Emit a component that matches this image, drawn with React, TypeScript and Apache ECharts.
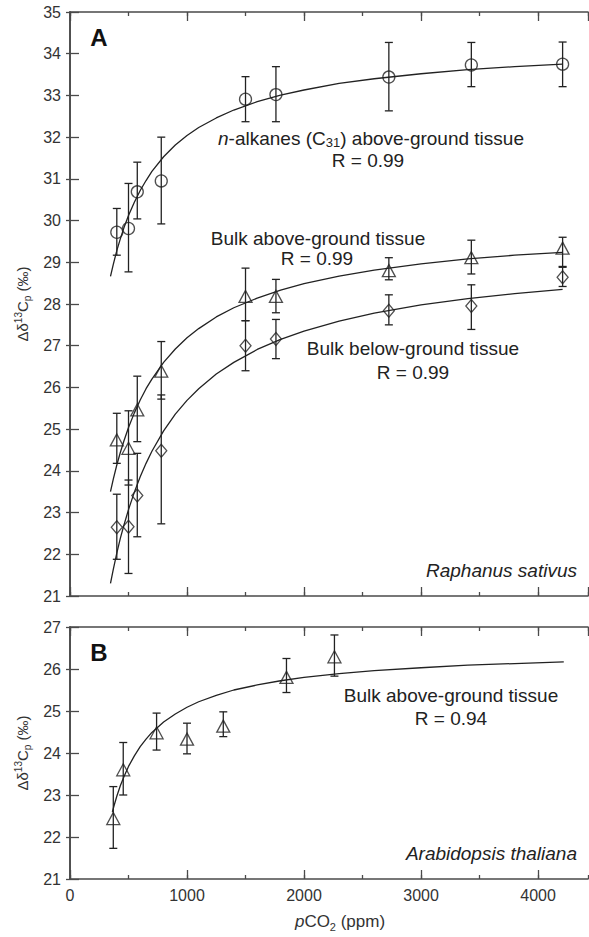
import React, { useEffect, useRef } from "react";
import * as echarts from "echarts";

// ---- Panel A (Raphanus sativus) ----
const pco2A = [400, 500, 575, 780, 1500, 1760, 2725, 3430, 4210];
const nAlkanes = [29.72, 29.81, 30.69, 30.95, 32.91, 33.02, 33.44, 33.73, 33.75];
const nAlkanesHi = [30.29, 30.89, 31.4, 32.0, 33.45, 33.69, 34.27, 34.27, 34.28];
const nAlkanesLo = [29.17, 28.77, 30.04, 29.92, 32.37, 32.37, 32.63, 33.21, 33.21];

const bulkAbove = [24.74, 24.54, 25.46, 26.39, 28.18, 28.18, 28.8, 29.11, 29.34];
const bulkAboveHi = [25.38, 25.44, 26.27, 27.1, 28.86, 28.59, 29.11, 29.53, 29.6];
const bulkAboveLo = [24.18, 23.66, 24.7, 25.72, 27.6, 27.79, 28.58, 28.72, 28.9];

const bulkBelow = [22.65, 22.66, 23.41, 24.48, 27.0, 27.16, 27.84, 27.95, 28.64];
const bulkBelowHi = [23.44, 23.78, 24.42, 25.82, 27.6, 27.63, 28.22, 28.46, 28.88];
const bulkBelowLo = [21.88, 21.54, 22.42, 22.73, 26.4, 26.69, 27.5, 27.39, 28.42];

// fitted curves
const fitAX = [346, 370, 400, 430, 460, 500, 550, 600, 650, 700, 800, 900, 1000, 1100, 1250, 1400, 1600, 1800, 2000, 2300, 2600, 3000, 3400, 3800, 4210];
const fitNAlkanes = [28.66, 28.95, 29.28, 29.56, 29.82, 30.12, 30.44, 30.72, 30.96, 31.18, 31.53, 31.81, 32.04, 32.23, 32.46, 32.65, 32.85, 33.01, 33.13, 33.29, 33.4, 33.52, 33.62, 33.69, 33.75];
const fitBulkAbove = [23.5, 23.8, 24.14, 24.44, 24.71, 25.04, 25.39, 25.7, 25.97, 26.2, 26.6, 26.92, 27.19, 27.41, 27.69, 27.91, 28.14, 28.33, 28.49, 28.67, 28.81, 28.96, 29.08, 29.17, 29.24];
const fitBulkBelow = [21.3, 21.64, 22.03, 22.38, 22.69, 23.07, 23.49, 23.86, 24.18, 24.47, 24.96, 25.36, 25.69, 25.97, 26.32, 26.6, 26.91, 27.15, 27.35, 27.59, 27.78, 27.98, 28.13, 28.25, 28.35];

// ---- Panel B (Arabidopsis thaliana) ----
const pco2B = [370, 455, 740, 1000, 1310, 1850, 2260];
const arabAbove = [22.44, 23.6, 24.48, 24.33, 24.64, 25.8, 26.29];
const arabAboveHi = [23.2, 24.25, 24.95, 24.71, 24.98, 26.25, 26.81];
const arabAboveLo = [21.73, 23.0, 24.07, 23.98, 24.39, 25.44, 25.83];

const fitBX = [362, 380, 400, 430, 460, 500, 550, 600, 650, 700, 800, 900, 1000, 1100, 1250, 1400, 1600, 1800, 2000, 2300, 2600, 3000, 3400, 3800, 4220];
const fitArab = [22.6, 22.78, 22.97, 23.22, 23.43, 23.68, 23.93, 24.15, 24.33, 24.49, 24.74, 24.93, 25.09, 25.22, 25.37, 25.5, 25.62, 25.72, 25.8, 25.89, 25.96, 26.03, 26.09, 26.13, 26.17];

const X_MIN = 0;
const X_MAX = 4427;

const INK = "#222";
const AXIS = "#4a4a4a";
const FONT = "Liberation Sans, Arial, Helvetica, sans-serif";

function pairs(xs: number[], ys: number[]) {
  return xs.map((x, i) => [x, ys[i]]);
}
function triples(xs: number[], lo: number[], hi: number[]) {
  return xs.map((x, i) => [x, lo[i], hi[i]]);
}

function errorBarRender(params: any, api: any) {
  const x = api.value(0);
  const lo = api.value(1);
  const hi = api.value(2);
  const pHi = api.coord([x, hi]);
  const pLo = api.coord([x, lo]);
  const w = 4;
  const style = { stroke: INK, lineWidth: 1.3 };
  return {
    type: "group",
    children: [
      { type: "line", shape: { x1: pHi[0], y1: pHi[1], x2: pLo[0], y2: pLo[1] }, style },
      { type: "line", shape: { x1: pHi[0] - w, y1: pHi[1], x2: pHi[0] + w, y2: pHi[1] }, style },
      { type: "line", shape: { x1: pLo[0] - w, y1: pLo[1], x2: pLo[0] + w, y2: pLo[1] }, style },
    ],
  };
}

function xAxes(gridIndex: number, withLabels: boolean) {
  const base = {
    type: "value",
    gridIndex,
    min: X_MIN,
    max: X_MAX,
    splitLine: { show: false },
  };
  const major = (position: string, showLine: boolean, labels: boolean, extra: any = {}) => ({
    ...base,
    position,
    interval: 1000,
    axisLine: { show: showLine, lineStyle: { color: AXIS, width: 1.6 } },
    axisTick: { show: true, inside: true, length: 9, lineStyle: { color: AXIS, width: 1.3 } },
    axisLabel: {
      show: labels,
      showMaxLabel: false,
      margin: 8,
      fontSize: 16,
      fontFamily: FONT,
      color: "#333",
      formatter: (v: number) => (v % 1000 === 0 ? String(v) : ""),
    },
    ...extra,
  });
  const minor = (position: string) => ({
    ...base,
    position,
    interval: 500,
    axisLine: { show: false },
    axisTick: { show: true, inside: true, length: 4, lineStyle: { color: AXIS, width: 1.3 } },
    axisLabel: { show: false },
  });
  const nameExtra = withLabels
    ? {
        name: "{i|p}CO{sub|2} (ppm)",
        nameLocation: "middle",
        nameGap: 31,
        nameTextStyle: {
          fontSize: 17,
          fontFamily: FONT,
          color: "#333",
          lineHeight: 22,
          padding: [0, 0, 0, 22],
          rich: {
            i: { fontSize: 17, fontStyle: "italic", fontFamily: FONT, color: "#333", lineHeight: 22 },
            sub: { fontSize: 11, fontFamily: FONT, color: "#333", verticalAlign: "bottom", lineHeight: 11 },
          },
        },
      }
    : {};
  return [
    major("bottom", true, withLabels, nameExtra),
    minor("bottom"),
    major("top", true, false),
    minor("top"),
  ];
}

function yAxes(gridIndex: number, min: number, max: number) {
  return [
    {
      type: "value",
      gridIndex,
      position: "left",
      min,
      max,
      interval: 1,
      splitLine: { show: false },
      axisLine: { show: true, lineStyle: { color: AXIS, width: 1.6 } },
      axisTick: { show: true, inside: true, length: 9, lineStyle: { color: AXIS, width: 1.3 } },
      axisLabel: { margin: 9, fontSize: 16, fontFamily: FONT, color: "#333" },
      name: "{a|Δδ}{sup|13}{a|C}{sub|p}{a| (‰)}",
      nameLocation: "middle",
      nameRotate: 90,
      nameGap: 38,
      nameTextStyle: {
        fontSize: 15,
        fontFamily: FONT,
        color: "#333",
        lineHeight: 19,
        rich: {
          a: { fontSize: 15, fontFamily: FONT, color: "#333", lineHeight: 19 },
          sup: { fontSize: 10, fontFamily: FONT, color: "#333", verticalAlign: "top", lineHeight: 10 },
          sub: { fontSize: 10, fontFamily: FONT, color: "#333", verticalAlign: "bottom", lineHeight: 10 },
        },
      },
    },
    {
      type: "value",
      gridIndex,
      position: "right",
      min,
      max,
      interval: 1,
      splitLine: { show: false },
      axisLine: { show: true, lineStyle: { color: AXIS, width: 1.6 } },
      axisTick: { show: true, inside: true, length: 4, lineStyle: { color: AXIS, width: 1.3 } },
      axisLabel: { show: false },
    },
  ];
}

function fitLine(xAxisIndex: number, yAxisIndex: number, xs: number[], ys: number[]) {
  return {
    type: "line",
    xAxisIndex,
    yAxisIndex,
    data: pairs(xs, ys),
    smooth: false,
    showSymbol: false,
    symbol: "none",
    lineStyle: { color: INK, width: 1.3, join: "round" },
    z: 2,
    silent: true,
  };
}

function points(xAxisIndex: number, yAxisIndex: number, xs: number[], ys: number[], symbol: string, size: any) {
  return {
    type: "scatter",
    xAxisIndex,
    yAxisIndex,
    data: pairs(xs, ys),
    symbol,
    symbolSize: size,
    itemStyle: { color: "rgba(0,0,0,0)", borderColor: INK, borderWidth: 1.3 },
    z: 4,
    silent: true,
  };
}

function errBars(xAxisIndex: number, yAxisIndex: number, xs: number[], lo: number[], hi: number[]) {
  return {
    type: "custom",
    xAxisIndex,
    yAxisIndex,
    data: triples(xs, lo, hi),
    encode: { x: 0, y: [1, 2] },
    renderItem: errorBarRender,
    z: 3,
    silent: true,
  };
}

function label(text: string, x: number, y: number, opts: any = {}) {
  return {
    type: "text",
    x,
    y,
    z: 10,
    silent: true,
    style: {
      text,
      fill: opts.fill || "#222",
      fontSize: opts.fontSize || 19,
      fontFamily: FONT,
      fontStyle: opts.fontStyle || "normal",
      fontWeight: opts.fontWeight || "normal",
      align: opts.align || "center",
      textAlign: opts.align || "center",
      verticalAlign: "middle",
      textVerticalAlign: "middle",
      lineHeight: opts.lineHeight || 22,
      rich: opts.rich,
    },
  };
}

export default function App() {
  const ref = useRef<HTMLDivElement>(null);

  useEffect(() => {
    if (!ref.current) return;
    const chart = echarts.init(ref.current, undefined, { renderer: "svg" });

    const subRich = {
      i: { fontSize: 19, fontStyle: "italic", fontFamily: FONT, fill: "#222", color: "#222", lineHeight: 22 },
      sub: { fontSize: 13, fontFamily: FONT, fill: "#222", color: "#222", verticalAlign: "bottom", lineHeight: 13 },
    };

    const option: any = {
      animation: false,
      backgroundColor: "#fff",
      grid: [
        { left: 70, top: 12, right: 1, height: 584, show: false },
        { left: 70, top: 627, right: 1, height: 252, show: false },
      ],
      xAxis: [...xAxes(0, false), ...xAxes(1, true)],
      yAxis: [...yAxes(0, 21, 35), ...yAxes(1, 21, 27)],
      series: [
        fitLine(0, 0, fitAX, fitNAlkanes),
        fitLine(0, 0, fitAX, fitBulkAbove),
        fitLine(0, 0, fitAX, fitBulkBelow),
        errBars(0, 0, pco2A, nAlkanesLo, nAlkanesHi),
        errBars(0, 0, pco2A, bulkAboveLo, bulkAboveHi),
        errBars(0, 0, pco2A, bulkBelowLo, bulkBelowHi),
        points(0, 0, pco2A, nAlkanes, "circle", 12),
        points(0, 0, pco2A, bulkAbove, "triangle", [13, 12]),
        points(0, 0, pco2A, bulkBelow, "diamond", [11, 13]),
        fitLine(4, 2, fitBX, fitArab),
        errBars(4, 2, pco2B, arabAboveLo, arabAboveHi),
        points(4, 2, pco2B, arabAbove, "triangle", [13, 12]),
      ],
      graphic: [
        label("A", 99, 37, { fontSize: 24, fontWeight: "bold", fill: "#111" }),
        label("B", 99, 652, { fontSize: 24, fontWeight: "bold", fill: "#111" }),
        label("{i|n}-alkanes (C{sub|31}) above-ground tissue", 371, 138, { rich: subRich }),
        label("R = 0.99", 368, 160),
        label("Bulk above-ground tissue", 318, 238),
        label("R = 0.99", 317, 258),
        label("Bulk below-ground tissue", 413, 348),
        label("R = 0.99", 413, 372),
        label("Raphanus sativus", 577, 570, { fontStyle: "italic", align: "right" }),
        label("Bulk above-ground tissue", 451, 695),
        label("R = 0.94", 451, 718),
        label("Arabidopsis thaliana", 577, 853, { fontStyle: "italic", align: "right" }),
      ],
    };

    chart.setOption(option);
    return () => chart.dispose();
  }, []);

  return (
    <div
      ref={ref}
      style={{ position: "absolute", left: 0, top: 0, width: 589, height: 937, background: "#fff" }}
    />
  );
}
